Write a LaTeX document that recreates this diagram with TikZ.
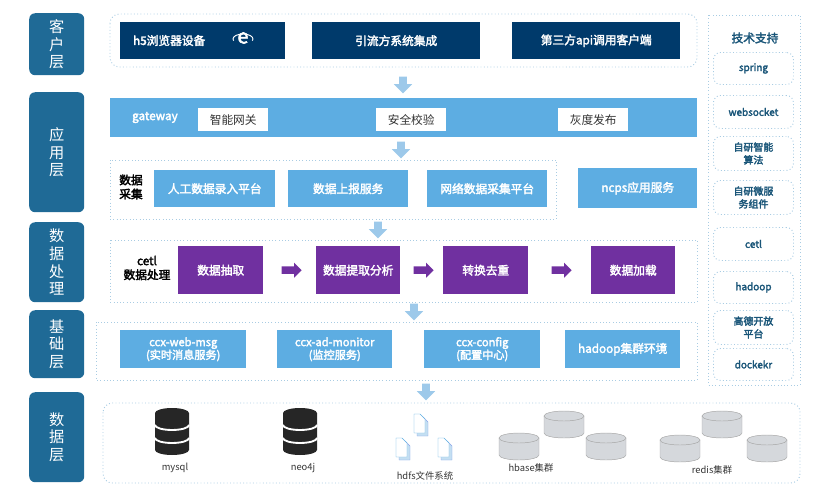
\documentclass[tikz,border=0pt]{standalone}
\usepackage{fontspec}
\setmainfont{Noto Sans CJK SC}[AutoFakeBold=2.5]
\usetikzlibrary{shapes.arrows,shapes.geometric,calc}
\definecolor{lay}{HTML}{1F6A96}
\definecolor{navy}{HTML}{003A6B}
\definecolor{lblue}{HTML}{5DADE2}
\definecolor{arr}{HTML}{9DC9EA}
\definecolor{purp}{HTML}{7030A0}
\definecolor{dash}{HTML}{A9CCE3}
\definecolor{cyl}{HTML}{D5D8DC}
\begin{document}
\begin{tikzpicture}[x=0.03cm,y=-0.03cm,
 layer/.style={fill=lay,rounded corners=5pt,text=white,font=\fontsize{13}{15}\selectfont,align=center,anchor=north west},
 grp/.style={draw=dash,dotted,thick,rounded corners=8pt},
 grps/.style={draw=dash,dotted,thick},
 nbox/.style={fill=navy,text=white,font=\bfseries\fontsize{10}{12}\selectfont,anchor=north west},
 bbox/.style={fill=lblue,text=white,font=\bfseries\fontsize{10}{12}\selectfont,anchor=north west,align=center},
 wbox/.style={fill=white,text=black!80,font=\fontsize{10}{12}\selectfont,anchor=north west},
 pbox/.style={fill=purp,text=white,font=\bfseries\fontsize{10}{12}\selectfont,anchor=north west},
 down/.style={single arrow,fill=arr,shape border rotate=270,minimum width=0.55cm,single arrow head extend=0.08cm,minimum height=0.5cm,inner sep=1.5pt},
 parr/.style={single arrow,fill=purp,minimum width=0.45cm,minimum height=0.6cm,inner sep=1.5pt,single arrow head extend=0.06cm},
 tech/.style={draw=dash,dotted,thick,rounded corners=6pt,anchor=north west,text=lay!80!black,font=\bfseries\fontsize{8.5}{11}\selectfont,align=center,minimum width=80*0.03cm},
 lbl/.style={font=\fontsize{8}{10}\selectfont,text=black!80}]
\useasboundingbox (0,0) rectangle (826,502);
% layer labels
\node[layer,minimum width=55*0.03cm,minimum height=62*0.03cm] (L1) at (29,13) {客\\户\\层};
\node[layer,minimum width=55*0.03cm,minimum height=120*0.03cm] (L2) at (29,92) {应\\用\\层};
\node[layer,minimum width=55*0.03cm,minimum height=80*0.03cm] (L3) at (29,222) {数\\据\\处\\理};
\node[layer,minimum width=55*0.03cm,minimum height=68*0.03cm] (L4) at (29,310) {基\\础\\层};
\node[layer,minimum width=55*0.03cm,minimum height=90*0.03cm] (L5) at (29,392) {数\\据\\层};
% client
\draw[grp] (110,14) rectangle (697,67);
\node[nbox,minimum width=165*0.03cm,minimum height=37*0.03cm] (c1) at (120,22) {};
\node[anchor=west,text=white,font=\bfseries\fontsize{10}{12}\selectfont] (c1t) at (129,40.5) {h5浏览器设备};
\node[text=white,font=\bfseries\fontsize{17}{17}\selectfont] (ie) at (243,38) {e};
\draw[white,thick] (233.6,40.7) arc (160:380:10 and 5);
\node[nbox,minimum width=168*0.03cm,minimum height=37*0.03cm] (c2) at (312,22) {引流方系统集成};
\node[nbox,minimum width=168*0.03cm,minimum height=37*0.03cm] (c3) at (512,22) {第三方api调用客户端};
\node[down] (a1) at (403,83) {};
% gateway
\node[fill=lblue,minimum width=587*0.03cm,minimum height=39*0.03cm,anchor=north west] (gw) at (110,98) {};
\node[anchor=west,text=white,font=\bfseries\fontsize{10}{12}\selectfont] (gwt) at (128,117.5) {gateway};
\node[wbox,minimum width=70*0.03cm,minimum height=23*0.03cm] (g1) at (198,108) {智能网关};
\node[wbox,minimum width=70*0.03cm,minimum height=23*0.03cm] (g2) at (376,108) {安全校验};
\node[wbox,minimum width=70*0.03cm,minimum height=23*0.03cm] (g3) at (558,108) {灰度发布};
\node[down] (a2) at (401,148) {};
% collection
\draw[grps] (110,160) rectangle (556,219);
\node[font=\bfseries\fontsize{10}{12}\selectfont,align=left] (cl) at (131,187) {数据\\采集};
\node[bbox,minimum width=121*0.03cm,minimum height=37*0.03cm] (d1) at (154,170) {人工数据录入平台};
\node[bbox,minimum width=120*0.03cm,minimum height=37*0.03cm] (d2) at (288,170) {数据上报服务};
\node[bbox,minimum width=120*0.03cm,minimum height=37*0.03cm] (d3) at (427,170) {网络数据采集平台};
\node[bbox,minimum width=119*0.03cm,minimum height=40*0.03cm] (d4) at (578,168) {ncps应用服务};
\node[down] (a3) at (378,228) {};
% cetl
\draw[grps] (110,240) rectangle (697,302);
\node[font=\bfseries\fontsize{10}{12}\selectfont,align=center] (ct) at (147,268) {cetl\\数据处理};
\node[pbox,minimum width=85*0.03cm,minimum height=48*0.03cm] (p1) at (178,246) {数据抽取};
\node[pbox,minimum width=84*0.03cm,minimum height=48*0.03cm] (p2) at (316,246) {数据提取分析};
\node[pbox,minimum width=85*0.03cm,minimum height=48*0.03cm] (p3) at (443,246) {转换去重};
\node[pbox,minimum width=84*0.03cm,minimum height=48*0.03cm] (p4) at (591,246) {数据加载};
\node[parr] (pa1) at ($ (p1.east)!0.5!(p2.west) $) {};
\node[parr] (pa2) at ($ (p2.east)!0.5!(p3.west) $) {};
\node[parr] (pa3) at ($ (p3.east)!0.5!(p4.west) $) {};
\node[down] (a4) at (414,310) {};
% base
\draw[grps] (96,322) rectangle (697,380);
\node[bbox,minimum width=126*0.03cm,minimum height=38*0.03cm,font=\bfseries\fontsize{9.5}{11}\selectfont] (b1) at (120,330) {ccx-web-msg\\(实时消息服务)};
\node[bbox,minimum width=115*0.03cm,minimum height=38*0.03cm,font=\bfseries\fontsize{9.5}{11}\selectfont] (b2) at (277,330) {ccx-ad-monitor\\(监控服务)};
\node[bbox,minimum width=116*0.03cm,minimum height=38*0.03cm,font=\bfseries\fontsize{9.5}{11}\selectfont] (b3) at (424,330) {ccx-config\\(配置中心)};
\node[bbox,minimum width=115*0.03cm,minimum height=38*0.03cm] (b4) at (565,330) {hadoop集群环境};
\node[down] (a5) at (426,390) {};
% data
\draw[grp] (103,403) rectangle (800,483);
\foreach \n/\x/\t in {db1/172/mysql,db2/300/neo4j}{
 \fill[black!85] (\x-17,413) -- (\x-17,450) arc (180:0:17 and 5) -- (\x+17,413) arc (360:180:17 and 5) -- cycle;
 \draw[white,line width=1.6pt] (\x-17,425) arc (180:0:17 and 5);
 \draw[white,line width=1.6pt] (\x-17,438) arc (180:0:17 and 5);
 \node[lbl] (\n) at (\x+3,468) {\t};
}
\foreach \x/\y in {420/414,402/438,444/438}{
 \draw[dash!80!blue,fill=arr!60] (\x-3,\y+3) -- (\x-3,\y+22) -- (\x+8,\y+22) -- (\x+8,\y+8) -- (\x+3,\y+3) -- cycle;
 \draw[lblue,fill=white] (\x-6,\y) -- (\x-6,\y+19) -- (\x+5,\y+19) -- (\x+5,\y+5) -- (\x,\y) -- cycle;
}
\node[lbl] (hd) at (425,476) {hdfs文件系统};
\foreach \x/\y in {564/416,519/438,606/438,722/416,680/440,767/440}{
 \fill[cyl] (\x-20,\y) -- (\x-20,\y+17) arc (180:0:20 and 5) -- (\x+20,\y) arc (360:180:20 and 5) -- cycle;
 \draw[gray!70] (\x-20,\y) -- (\x-20,\y+17) arc (180:0:20 and 5) -- (\x+20,\y);
 \draw[gray!70] (\x,\y) ellipse (20 and 5);
}
\node[lbl] (hb) at (531,468) {hbase集群};
\node[lbl] (rd) at (712,470) {redis集群};
% tech column
\draw[grps] (708,15) rectangle (800,385);
\node[text=lay!80!black,font=\bfseries\fontsize{10}{12}\selectfont] (tt) at (755,38) {技术支持};
\node[tech,minimum height=32*0.03cm] (t1) at (713,52) {spring};
\node[tech,minimum height=33*0.03cm] (t2) at (713,95) {websocket};
\node[tech,minimum height=34*0.03cm] (t3) at (713,136) {自研智能\\算法};
\node[tech,minimum height=34*0.03cm] (t4) at (713,180) {自研微服\\务组件};
\node[tech,minimum height=33*0.03cm] (t5) at (713,227) {cetl};
\node[tech,minimum height=32*0.03cm] (t6) at (713,271) {hadoop};
\node[tech,minimum height=34*0.03cm] (t7) at (713,310) {高德开放\\平台};
\node[tech,minimum height=32*0.03cm] (t8) at (713,348) {dockekr};
\end{tikzpicture}
\end{document}
